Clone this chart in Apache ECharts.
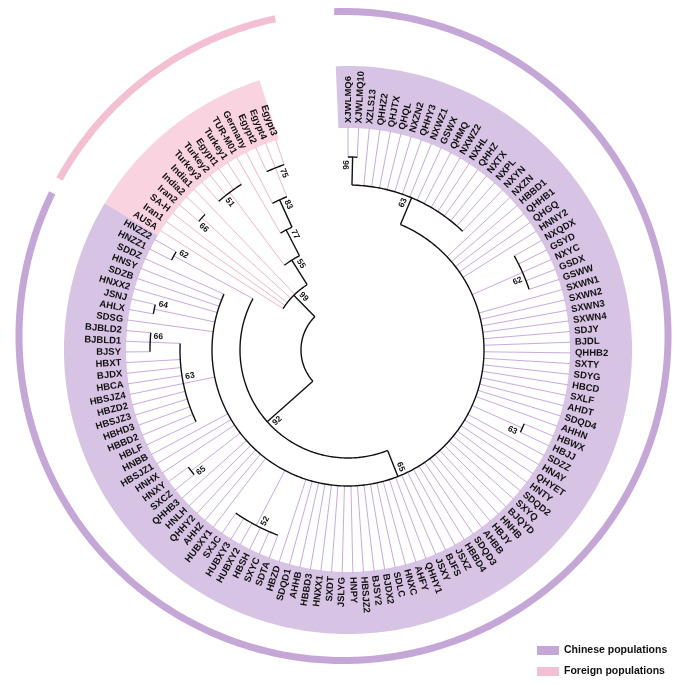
<!DOCTYPE html>
<html>
<head>
<meta charset="utf-8">
<script src="https://cdn.jsdelivr.net/npm/echarts@6/dist/echarts.min.js"></script>
<style>
html, body { margin: 0; padding: 0; background: #fff; }
#tree { width: 685px; height: 685px; }
</style>
</head>
<body>
<div id="tree"></div>
<script>
// leaves, in the order they sit round the circle (clockwise from the top)
var chineseLeaves = ['XJWLMQ6','XJWLMQ10','XZLS13','QHHZ2','QHJTX','QHQL','NXZN2','QHHY3','NXWZ1','GSWX',
    'QHMQ','NXWZ2','NXHL','QHHZ','NXTX','NXPL','NXYN','NXZN','HBBD1','QHHB1','QHGQ','HNNY2','NXQDX','GSYD',
    'NXYC','GSDX','GSWW','SXWN1','SXWN2','SXWN3','SXWN4','SDJY','BJDL','QHHB2','SXTY','SDYG','HBCD','SXLF',
    'AHDT','SDQD4','AHHN','HBWX','HBJJ','SDZZ','HNAY','QHYET','HNTY','SDQD2','SXYQ','BJQYD','HNHB','HBJY',
    'AHBB','SDQD3','HBBD4','JSXZ','BJFS','JSXY','QHHY1','AHFY','HNXC','SDLC','BJDX2','BJSY2','HBSJZ2','HNPY',
    'JSLYG','SXDT','HNXX1','HBBD3','AHHB','SDQD1','HBZD','SDTA','SXYC','HBSH','HUBXY2','HUBXY3','SXJC',
    'HUBXY1','AHHZ','QHHY2','HNLH','QHHB3','SXCZ','HNXY','HNHX','HBSJZ1','HNBB','HBLF','HBBD2','HBHD3',
    'HBSJZ3','HBZD2','HBSJZ4','HBCA','BJDX','HBXT','BJSY','BJBLD1','BJBLD2','SDSG','AHLX','JSNJ','HNXX2',
    'SDZB','HNSY','SDDZ','HNZZ1','HNZZ2'];
var foreignLeaves = ['AUSA','Iran1','SA-H','Iran2','India2','India1','Turkey3','Turkey2','Egypt1','Turkey1',
    'TUR-M01','Germany','Egypt2','Egypt4','Egypt3'];

// topology, bootstrap support and node depth (newick: (children)support:depth)
var treeNewick =
    '(((((XJWLMQ6,XJWLMQ10)96:193,XZLS13,QHHZ2,QHJTX,QHQL,NXZN2,QHHY3,NXWZ1,GSWX,QHMQ,NXWZ2,NXHL,QHHZ,NXTX,NXPL,NXYN)63:165,' +
    'NXZN,HBBD1,QHHB1,QHGQ,HNNY2,(NXQDX,GSYD,NXYC,GSDX,GSWW)62:191,SXWN1,SXWN2,SXWN3,SXWN4,SDJY,BJDL,QHHB2,SXTY,SDYG,' +
    'HBCD,SXLF,AHDT,SDQD4,AHHN,(HBWX,HBJJ)63:191,SDZZ,HNAY,QHYET,HNTY,SDQD2,SXYQ,BJQYD,HNHB,HBJY,AHBB,SDQD3,HBBD4,JSXZ,' +
    'BJFS,JSXY,QHHY1,AHFY,HNXC,SDLC,BJDX2,BJSY2,HBSJZ2,HNPY,JSLYG,SXDT,HNXX1,HBBD3,AHHB,SDQD1,HBZD,' +
    '(SDTA,SXYC,HBSH,HUBXY2,HUBXY3,SXJC)52:198,HUBXY1,AHHZ,QHHY2,HNLH,QHHB3,(SXCZ,HNXY)65:198,HNHX,HBSJZ1,HNBB,' +
    '(HBLF,HBBD2,HBHD3,HBSJZ3,HBZD2,HBSJZ4,HBCA,BJDX,HBXT,(BJSY,BJBLD1,BJBLD2)66:198)63:168,SDSG,(AHLX,JSNJ)64:198,' +
    'HNXX2,SDZB,HNSY,SDDZ)65:136,(HNZZ1,HNZZ2)62:198)92:108,' +
    '(AUSA,Iran1,SA-H,(Iran2,India2)66:197,India1,((Turkey3,Turkey2,Egypt1,Turkey1)51:197,' +
    '(TUR-M01,(Germany,(Egypt2,Egypt4,Egypt3)75:196)83:165)77:135)55:106)99:77):47;';

var legendNames = ['Chinese populations', 'Foreign populations'];

// ---- layout / style ----
var CENTER = [348, 350];
var RING_CENTER = [343.5, 336];
var DEG_PER_LEAF = 2.75;
var TIP = 223, LABEL_R = 227;
var BAND = [222, 284], RING = [321, 328];
// internal nodes in pre-order (root excluded)
var stemBlack = [1, 1, 1, 1, 0, 0, 0, 0, 0, 0, 0, 0, 1, 0, 1, 0, 1, 1, 0];
var supportSide = [-1, -1, -1, -1, 1, 1, -1, -1, 1, 1, 1, 1, 1, -1, 1, -1, 1, 1, 1];
var colors = {
    chinese: { line: '#c9aadc', band: '#d7c3e3', ring: '#c4a6d7' },
    foreign: { line: '#f5b5cb', band: '#f9d3e0', ring: '#f4bfd2' }
};
var FONT = 'bold 9.5px "Liberation Sans", Arial, sans-serif';
var SUP_FONT = 'bold 8.5px "Liberation Sans", Arial, sans-serif';

function parseNewick(s) {
    s = s.replace(/\s+/g, '');
    var pos = 0;
    function node() {
        var n = { children: [] };
        if (s[pos] === '(') {
            pos++;
            n.children.push(node());
            while (s[pos] === ',') { pos++; n.children.push(node()); }
            pos++;
        }
        var name = '';
        while (pos < s.length && ',():;'.indexOf(s[pos]) < 0) name += s[pos++];
        n.name = name;
        if (s[pos] === ':') {
            pos++;
            var d = '';
            while (pos < s.length && ',();'.indexOf(s[pos]) < 0) d += s[pos++];
            n.depth = +d;
        }
        return n;
    }
    return node();
}

var root = parseNewick(treeNewick);
var leaves = [], inner = [];
function place(n, parent) {
    n.parent = parent;
    if (!n.children.length) {
        n.angle = leaves.length;
        n.depth = TIP;
        n.group = foreignLeaves.indexOf(n.name) >= 0 ? 'foreign' : 'chinese';
        leaves.push(n);
    } else {
        inner.push(n);
        n.children.forEach(function (c) { place(c, n); });
        n.angle = (n.children[0].angle + n.children[n.children.length - 1].angle) / 2;
        n.group = n.children[0].group;
    }
}
place(root, null);

// segments: radial stems and node arcs
var segs = [];
function collect(n) {
    if (n.parent) {
        var k = inner.indexOf(n) - 1;
        var black = n.children.length && stemBlack[k];
        segs.push({ r1: n.parent.depth, r2: n.depth, a1: n.angle, a2: n.angle,
            color: black ? '#111' : colors[n.group].line, black: !!black });
    }
    if (n.children.length) {
        segs.push({ r1: n.depth, r2: n.depth, a1: n.children[0].angle,
            a2: n.children[n.children.length - 1].angle, color: '#111', black: true });
    }
    n.children.forEach(collect);
}
collect(root);
segs.sort(function (a, b) { return a.black - b.black; });

var supports = inner.slice(1).map(function (n, k) {
    return { r: n.depth, a: n.angle, text: n.name, side: supportSide[k] };
});

function groupSpan(g) {
    var idx = leaves.filter(function (l) { return l.group === g; }).map(function (l) { return l.angle; });
    return [Math.min.apply(null, idx), Math.max.apply(null, idx)];
}
var spans = { chinese: groupSpan('chinese'), foreign: groupSpan('foreign') };
var bandPad = { chinese: [0.9, 0.5], foreign: [0.5, 0.3] };
var ringPad = { chinese: [0.6, -1.3], foreign: [1.3, 2.5] };

function arcPoints(api, r, a1, a2) {
    var pts = [];
    var n = Math.max(2, Math.ceil(Math.abs(a2 - a1) * 4));
    for (var k = 0; k <= n; k++) pts.push(api.coord([r, a1 + (a2 - a1) * k / n]));
    return pts;
}
function sector(api, r0, r1, a1, a2, fill) {
    var pts = arcPoints(api, r1, a1, a2).concat(arcPoints(api, r0, a2, a1));
    return { type: 'polygon', shape: { points: pts }, style: { fill: fill } };
}
function radialText(api, r, a, text, font, shift, centered) {
    var c = api.coord([0, a]), p = api.coord([r, a]);
    var dx = p[0] - c[0], dy = p[1] - c[1];
    var len = Math.sqrt(dx * dx + dy * dy);
    var ux = dx / len, uy = dy / len;
    var phi = Math.atan2(dy, dx);
    var right = dx >= -0.01;
    return {
        type: 'text',
        x: p[0] - uy * shift,
        y: p[1] + ux * shift,
        rotation: right ? -phi : Math.PI - phi,
        style: { text: text, font: font, fill: '#111',
            align: centered ? 'center' : (right ? 'left' : 'right'), verticalAlign: 'middle' }
    };
}

function bandSeries(g, name) {
    return {
        name: name,
        type: 'custom',
        coordinateSystem: 'polar',
        polarIndex: 0,
        itemStyle: { color: colors[g].ring },
        data: [[0, 0]],
        z: 1,
        silent: true,
        renderItem: function (params, api) {
            var s = spans[g];
            return sector(api, BAND[0], BAND[1], s[0] - bandPad[g][0], s[1] + bandPad[g][1], colors[g].band);
        }
    };
}
function ringSeries(g) {
    return {
        name: g + ' ring',
        type: 'custom',
        coordinateSystem: 'polar',
        polarIndex: 1,
        data: [[0, 0]],
        z: 1,
        silent: true,
        renderItem: function (params, api) {
            var s = spans[g];
            return sector(api, RING[0], RING[1], s[0] - ringPad[g][0], s[1] + ringPad[g][1], colors[g].ring);
        }
    };
}

function hiddenAngle(i) {
    return { polarIndex: i, type: 'value', min: 0, max: 360 / DEG_PER_LEAF, startAngle: 90, clockwise: true,
        show: false, axisLine: { show: false }, axisLabel: { show: false }, splitLine: { show: false } };
}
function hiddenRadius(i) {
    return { polarIndex: i, type: 'value', min: 0, max: 350, show: false,
        axisLine: { show: false }, axisLabel: { show: false }, splitLine: { show: false } };
}

var chart = echarts.init(document.getElementById('tree'));
var option = {
    animation: false,
    backgroundColor: '#fff',
    polar: [{ center: CENTER, radius: 350 }, { center: RING_CENTER, radius: 350 }],
    angleAxis: [hiddenAngle(0), hiddenAngle(1)],
    radiusAxis: [hiddenRadius(0), hiddenRadius(1)],
    legend: {
        orient: 'vertical', left: 532, top: 640, itemWidth: 22, itemHeight: 9, itemGap: 10,
        icon: 'rect', selectedMode: false, data: legendNames,
        textStyle: { fontFamily: 'Liberation Sans', fontWeight: 'bold', fontSize: 10.5, color: '#111' }
    },
    series: [
        bandSeries('chinese', legendNames[0]),
        bandSeries('foreign', legendNames[1]),
        ringSeries('chinese'),
        ringSeries('foreign'),
        {
            name: 'branches',
            type: 'custom',
            coordinateSystem: 'polar',
            polarIndex: 0,
            silent: true,
            z: 2,
            data: segs.map(function (s) { return [s.r1, s.a1]; }),
            renderItem: function (params, api) {
                var s = segs[params.dataIndex];
                var pts = s.r1 === s.r2 ? arcPoints(api, s.r1, s.a1, s.a2)
                    : [api.coord([s.r1, s.a1]), api.coord([s.r2, s.a2])];
                return { type: 'polyline', shape: { points: pts },
                    style: { stroke: s.color, lineWidth: s.black ? 1.4 : 1, fill: null } };
            }
        },
        {
            name: 'labels',
            type: 'custom',
            coordinateSystem: 'polar',
            polarIndex: 0,
            silent: true,
            z: 3,
            data: leaves.map(function (l) { return [LABEL_R, l.angle]; }),
            renderItem: function (params, api) {
                var l = leaves[params.dataIndex];
                return radialText(api, LABEL_R, l.angle, l.name, FONT, 0, false);
            }
        },
        {
            name: 'support',
            type: 'custom',
            coordinateSystem: 'polar',
            polarIndex: 0,
            silent: true,
            z: 3,
            data: supports.map(function (s) { return [s.r, s.a]; }),
            renderItem: function (params, api) {
                var s = supports[params.dataIndex];
                return radialText(api, s.r - 8, s.a, s.text, SUP_FONT, s.side * 6, true);
            }
        }
    ]
};
chart.setOption(option);
</script>
</body>
</html>
